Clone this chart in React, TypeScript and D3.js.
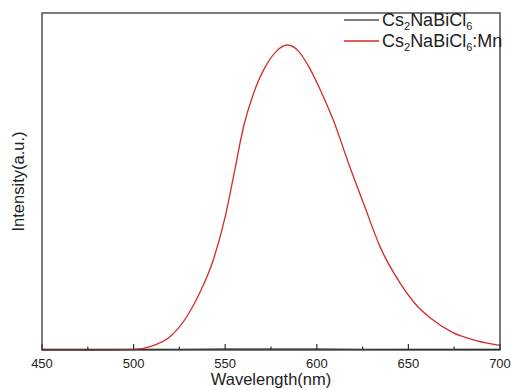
import React from 'react'
import * as d3 from 'd3'

// Cs2NaBiCl6:Mn emission
const mnWavelength = [450, 480, 500, 509, 520, 529, 536, 543.5, 550, 554.5, 560, 565.5, 573, 578, 584, 590, 596, 602, 609, 618, 625.5, 634.5, 645.5, 654.5, 662, 674, 687, 700]
const mnIntensity = [0, 0, 0.002, 0.011, 0.044, 0.109, 0.186, 0.295, 0.437, 0.568, 0.732, 0.842, 0.94, 0.98, 1.0, 0.98, 0.925, 0.852, 0.754, 0.601, 0.481, 0.339, 0.219, 0.146, 0.105, 0.058, 0.031, 0.015]

// Cs2NaBiCl6 (flat, no emission)
const bareWavelength = [450, 500, 550, 600, 650, 700]
const bareIntensity = [0.002, 0.002, 0.003, 0.003, 0.002, 0.002]

const xTicks = [450, 500, 550, 600, 650, 700]
const xMinorTicks = [475, 525, 575, 625, 675]

const W = 511
const H = 390
const margin = { top: 13, right: 11, bottom: 40, left: 42 }
const font = 'Liberation Sans, Arial, sans-serif'

export default function App() {
  const x = d3.scaleLinear().domain([450, 700]).range([margin.left, W - margin.right])
  const y = d3.scaleLinear().domain([0, 1.105]).range([H - margin.bottom, margin.top])

  const line = d3.line<[number, number]>()
    .x(d => x(d[0]))
    .y(d => y(d[1]))
    .curve(d3.curveMonotoneX)

  const mnPath = line(mnWavelength.map((w, i) => [w, mnIntensity[i]] as [number, number])) || ''
  const barePath = line(bareWavelength.map((w, i) => [w, bareIntensity[i]] as [number, number])) || ''

  const bottom = H - margin.bottom
  const plotMid = (margin.top + bottom) / 2

  return (
    <svg width={W} height={H} style={{ position: 'absolute', left: 0, top: 0 }} fontFamily={font}>
      <rect width={W} height={H} fill="#fff" />
      <path d={barePath} fill="none" stroke="#000" strokeWidth={1.2} />
      <path d={mnPath} fill="none" stroke="#d42a2a" strokeWidth={1.3} />

      {/* frame */}
      <rect x={margin.left} y={margin.top} width={W - margin.right - margin.left} height={bottom - margin.top}
        fill="none" stroke="#444" strokeWidth={1.4} />

      {/* x ticks */}
      {xTicks.map(t => (
        <g key={t}>
          <line x1={x(t)} x2={x(t)} y1={bottom} y2={bottom - 6} stroke="#333" strokeWidth={1.2} />
          <text x={x(t)} y={bottom + 18} textAnchor="middle" fontSize={13} fill="#222">{t}</text>
        </g>
      ))}
      {xMinorTicks.map(t => (
        <line key={t} x1={x(t)} x2={x(t)} y1={bottom} y2={bottom - 3.5} stroke="#333" strokeWidth={1.2} />
      ))}

      <text x={(margin.left + W - margin.right) / 2} y={H - 5} textAnchor="middle" fontSize={16.5} fill="#222">Wavelength(nm)</text>
      <text transform={`translate(24, ${plotMid}) rotate(-90)`} textAnchor="middle" fontSize={16.5} fill="#222">Intensity(a.u.)</text>

      {/* legend */}
      <line x1={344} x2={379} y1={20} y2={20} stroke="#000" strokeWidth={1.2} />
      <text x={382} y={26} fontSize={18} fill="#222">
        Cs<tspan fontSize={11} dy={4}>2</tspan><tspan dy={-4}>NaBiCl</tspan><tspan fontSize={11} dy={4}>6</tspan>
      </text>
      <line x1={344} x2={379} y1={41} y2={41} stroke="#d42a2a" strokeWidth={1.3} />
      <text x={382} y={47} fontSize={18} fill="#222">
        Cs<tspan fontSize={11} dy={4}>2</tspan><tspan dy={-4}>NaBiCl</tspan><tspan fontSize={11} dy={4}>6</tspan><tspan dy={-4}>:Mn</tspan>
      </text>
    </svg>
  )
}
